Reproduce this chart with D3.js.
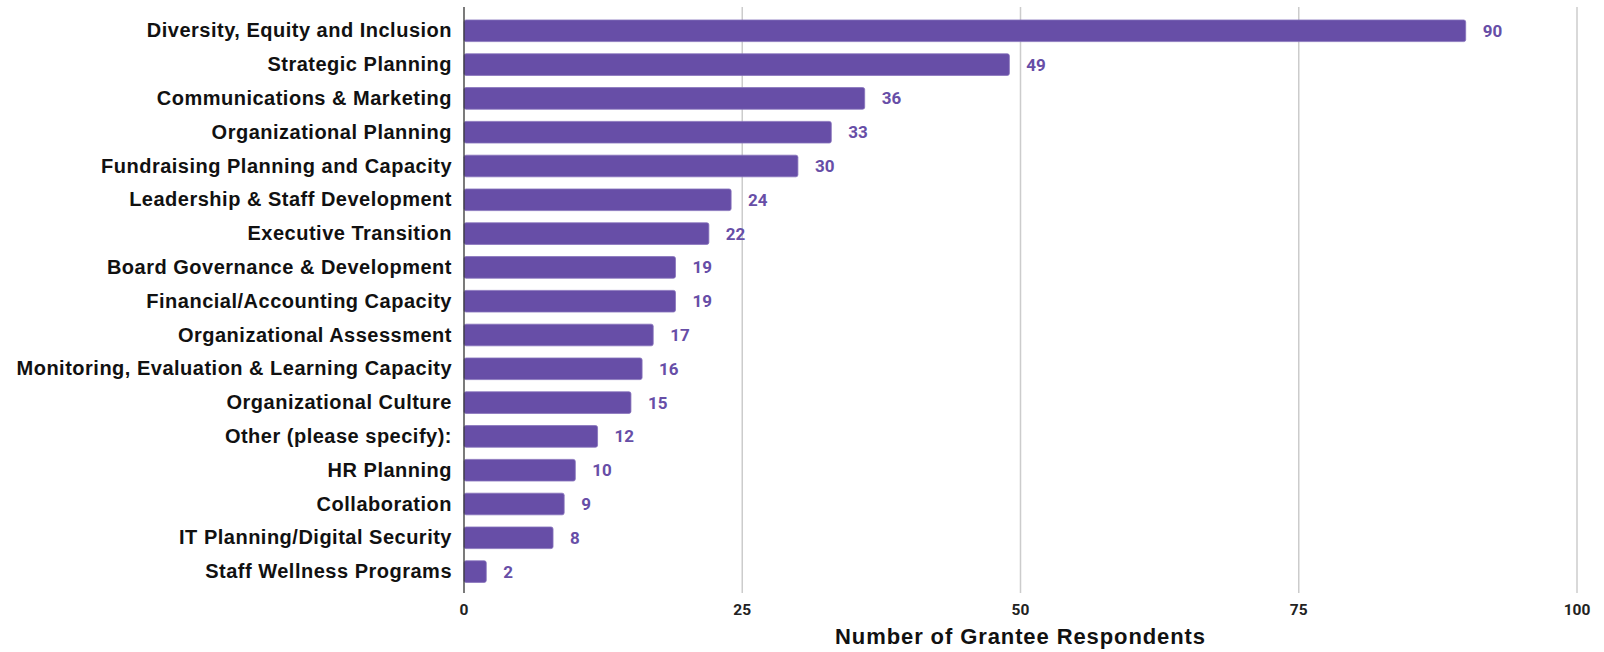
<!DOCTYPE html>
<html><head><meta charset="utf-8">
<script src="https://cdn.jsdelivr.net/npm/d3@7/dist/d3.min.js"></script>
<style>
html,body{margin:0;padding:0;background:#fff;}
svg{display:block;}
</style></head>
<body><svg id="c" width="1604" height="652"></svg>
<script>
const categories = [
  "Diversity, Equity and Inclusion",
  "Strategic Planning",
  "Communications & Marketing",
  "Organizational Planning",
  "Fundraising Planning and Capacity",
  "Leadership & Staff Development",
  "Executive Transition",
  "Board Governance & Development",
  "Financial/Accounting Capacity",
  "Organizational Assessment",
  "Monitoring, Evaluation & Learning Capacity",
  "Organizational Culture",
  "Other (please specify):",
  "HR Planning",
  "Collaboration",
  "IT Planning/Digital Security",
  "Staff Wellness Programs"
];
const values = [90, 49, 36, 33, 30, 24, 22, 19, 19, 17, 16, 15, 12, 10, 9, 8, 2];
const tickValues = [0, 25, 50, 75, 100];
const axisTitle = "Number of Grantee Respondents";

const svg = d3.select("#c");
const x0 = 464, x1 = 1577;
const plotTop = 7, plotBottom = 593;
const x = d3.scaleLinear().domain([0, 100]).range([x0, x1]);
const y = d3.scaleBand().domain(categories).range([13.9, 588.5]).paddingInner(0.36).paddingOuter(0.18);
const purple = "#674ea7";

// gridlines
svg.append("g").selectAll("line").data(tickValues.filter(d => d > 0)).join("line")
  .attr("x1", d => x(d)).attr("x2", d => x(d))
  .attr("y1", plotTop).attr("y2", plotBottom)
  .attr("stroke", "#cccccc").attr("stroke-width", 1.5);

// bars
svg.append("g").selectAll("rect").data(values).join("rect")
  .attr("x", x(0))
  .attr("y", (d, i) => y(categories[i]))
  .attr("width", d => x(d) - x(0))
  .attr("height", y.bandwidth())
  .attr("rx", 2).attr("ry", 2)
  .attr("fill", purple)
  .attr("stroke", "#8672bb").attr("stroke-width", 0.8);

// axis line
svg.append("line").attr("x1", x0).attr("x2", x0).attr("y1", plotTop).attr("y2", plotBottom)
  .attr("stroke", "#333").attr("stroke-width", 1.3);

// category labels
svg.append("g").selectAll("text").data(categories).join("text")
  .attr("x", x0 - 12)
  .attr("y", d => y(d) + y.bandwidth() / 2)
  .attr("dy", "0.33em")
  .attr("text-anchor", "end")
  .attr("font-family", "'Liberation Sans', Arial, sans-serif")
  .attr("font-weight", "bold")
  .attr("font-size", 20)
  .attr("letter-spacing", "0.5px")
  .attr("fill", "#111")
  .text(d => d);

// value labels
svg.append("g").selectAll("text").data(values).join("text")
  .attr("x", d => x(d) + 17)
  .attr("y", (d, i) => y(categories[i]) + y.bandwidth() / 2)
  .attr("dy", "0.35em")
  .attr("font-family", "Roboto, sans-serif")
  .attr("font-weight", "bold")
  .attr("font-size", 17)
  .attr("fill", purple)
  .text(d => d);

// x tick labels
svg.append("g").selectAll("text").data(tickValues).join("text")
  .attr("x", d => x(d))
  .attr("y", 610)
  .attr("dy", "0.35em")
  .attr("text-anchor", "middle")
  .attr("font-family", "Roboto, sans-serif")
  .attr("font-weight", "bold")
  .attr("font-size", 15.5)
  .attr("fill", "#222")
  .text(d => d);

// axis title
svg.append("text")
  .attr("x", (x0 + x1) / 2)
  .attr("y", 636)
  .attr("dy", "0.35em")
  .attr("text-anchor", "middle")
  .attr("font-family", "'Liberation Sans', Arial, sans-serif")
  .attr("font-weight", "bold")
  .attr("font-size", 22)
  .attr("letter-spacing", "0.9px")
  .attr("fill", "#111")
  .text(axisTitle);
</script></body></html>
